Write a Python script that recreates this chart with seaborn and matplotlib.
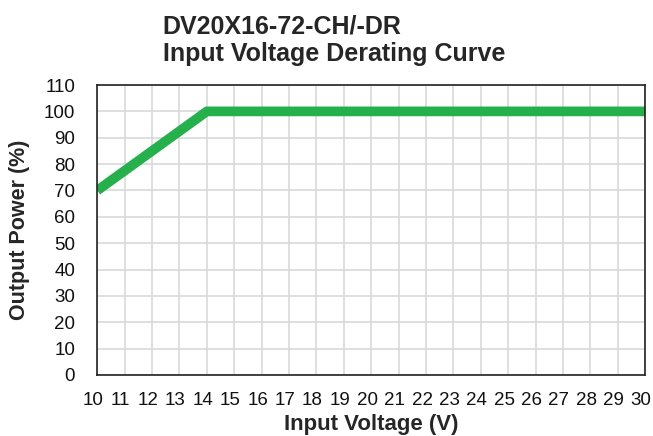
import numpy as np
import pandas as pd
import seaborn as sns
import matplotlib.pyplot as plt
import matplotlib.transforms as mtransforms

# derating curve points
voltage = [10, 14, 30]
power = [70, 100, 100]

x_ticks = list(range(10, 31))
y_ticks = list(range(0, 111, 10))

sns.set_theme(style="whitegrid")
plt.rcParams['font.family'] = ['Liberation Sans', 'DejaVu Sans']

df = pd.DataFrame({'Input Voltage (V)': voltage, 'Output Power (%)': power})

fig, ax = plt.subplots(figsize=(6.53, 4.36), dpi=100)
fig.subplots_adjust(left=0.149, right=0.988, top=0.805, bottom=0.14)

sns.lineplot(data=df, x='Input Voltage (V)', y='Output Power (%)', ax=ax,
             color='#24b04b', linewidth=7, solid_capstyle='butt')

ax.set_xlim(10, 30)
ax.set_ylim(0, 110)
ax.set_xticks(x_ticks)
ax.set_yticks(y_ticks)
ax.tick_params(axis='both', labelsize=13.5, length=0, colors='#111111')
ax.tick_params(axis='y', pad=16)
ax.tick_params(axis='x', pad=12)
ax.grid(True, color='#d9d9d9', linewidth=1.2)
for s in ax.spines.values():
    s.set_visible(True)
    s.set_color('#222222')
    s.set_linewidth(1.2)
ax.set_axisbelow(True)

# x tick labels sit a little left of their grid lines in the original
shift = mtransforms.ScaledTranslation(-4 / 100, 0, fig.dpi_scale_trans)
for lbl in ax.get_xticklabels():
    lbl.set_transform(lbl.get_transform() + shift)

ax.set_xlabel('Input Voltage (V)', fontsize=16, fontweight='bold', labelpad=4)
ax.set_ylabel('Output Power (%)', fontsize=15.5, fontweight='bold', labelpad=10)

fig.text(0.249, 0.908, 'DV20X16-72-CH/-DR\nInput Voltage Derating Curve',
         fontsize=18, fontweight='bold', ha='left', va='center', linespacing=1.2)

fig.savefig('out.png', dpi=100)
